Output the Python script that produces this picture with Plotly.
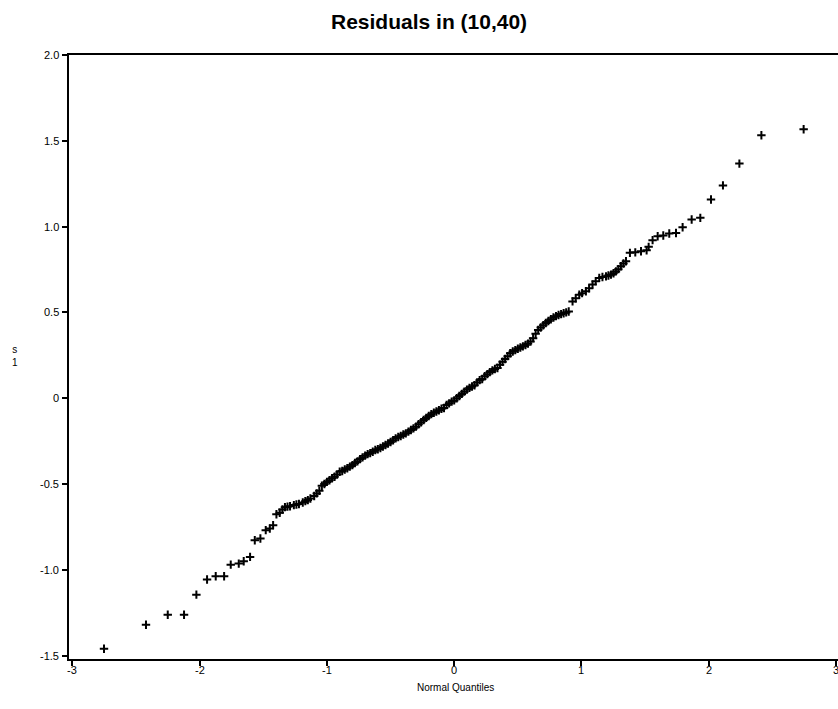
import plotly.graph_objects as go

# Normal quantiles (x) and residuals s1 (y)
lower_x = [-2.752, -2.422, -2.251, -2.123, -2.026, -1.942, -1.874, -1.808, -1.756, -1.693,
           -1.654, -1.604, -1.567, -1.523, -1.481, -1.449, -1.423, -1.397, -1.371]
lower_y = [-1.460, -1.320, -1.262, -1.262, -1.145, -1.057, -1.038, -1.038, -0.970, -0.964,
           -0.950, -0.925, -0.828, -0.818, -0.769, -0.760, -0.740, -0.676, -0.668]

middle_x = [-1.35, -1.33, -1.31, -1.29, -1.26, -1.24, -1.22, -1.19, -1.17, -1.15, -1.13, -1.10,
            -1.08, -1.06, -1.04, -1.02, -1.00, -0.98, -0.96, -0.94, -0.92, -0.90, -0.88, -0.86,
            -0.84, -0.82, -0.80, -0.78, -0.76, -0.74, -0.72, -0.70, -0.68, -0.66, -0.64, -0.62,
            -0.60, -0.58, -0.56, -0.54, -0.52, -0.50, -0.48, -0.46, -0.44, -0.42, -0.40, -0.38,
            -0.36, -0.34, -0.32, -0.30, -0.28, -0.26, -0.24, -0.22, -0.20, -0.18, -0.16, -0.14,
            -0.12, -0.10, -0.08, -0.06, -0.04, -0.02, 0.00, 0.02, 0.04, 0.06, 0.08, 0.10,
            0.12, 0.14, 0.16, 0.18, 0.20, 0.22, 0.24, 0.26, 0.28, 0.30, 0.32, 0.34,
            0.36, 0.38, 0.40, 0.42, 0.44, 0.46, 0.48, 0.50, 0.52, 0.54, 0.56, 0.58,
            0.60, 0.62, 0.64, 0.66, 0.68, 0.70, 0.72, 0.74, 0.76, 0.78, 0.80, 0.82,
            0.84, 0.86, 0.88, 0.90]
middle_y = [-0.649, -0.635, -0.632, -0.630, -0.623, -0.620, -0.617, -0.608, -0.600, -0.594, -0.585, -0.570,
            -0.555, -0.540, -0.510, -0.500, -0.488, -0.478, -0.467, -0.458, -0.445, -0.429, -0.424, -0.416,
            -0.408, -0.399, -0.390, -0.378, -0.368, -0.355, -0.345, -0.335, -0.326, -0.320, -0.312, -0.302,
            -0.298, -0.290, -0.282, -0.273, -0.264, -0.255, -0.245, -0.234, -0.226, -0.220, -0.212, -0.205,
            -0.195, -0.185, -0.176, -0.166, -0.152, -0.140, -0.127, -0.115, -0.104, -0.093, -0.085, -0.078,
            -0.070, -0.062, -0.057, -0.040, -0.030, -0.020, -0.013, 0.000, 0.013, 0.025, 0.038, 0.050,
            0.060, 0.068, 0.075, 0.092, 0.105, 0.112, 0.128, 0.140, 0.152, 0.162, 0.170, 0.176,
            0.195, 0.212, 0.228, 0.245, 0.262, 0.272, 0.280, 0.288, 0.295, 0.302, 0.310, 0.318,
            0.330, 0.350, 0.375, 0.398, 0.412, 0.425, 0.438, 0.450, 0.460, 0.470, 0.478, 0.485,
            0.490, 0.495, 0.500, 0.505]

upper_x = [0.930, 0.955, 0.983, 1.005, 1.035, 1.060, 1.087, 1.112, 1.140, 1.165, 1.193, 1.212,
           1.232, 1.252, 1.271, 1.290, 1.310, 1.330, 1.350, 1.381, 1.423, 1.468, 1.512, 1.528,
           1.559, 1.599, 1.643, 1.690, 1.743, 1.795, 1.866, 1.934, 2.018, 2.112, 2.241, 2.414,
           2.746]
upper_y = [0.564, 0.582, 0.603, 0.612, 0.623, 0.640, 0.662, 0.682, 0.701, 0.706, 0.710, 0.715,
           0.720, 0.728, 0.739, 0.752, 0.769, 0.785, 0.798, 0.847, 0.850, 0.856, 0.862, 0.882,
           0.921, 0.944, 0.948, 0.960, 0.963, 0.996, 1.041, 1.051, 1.158, 1.240, 1.367, 1.532,
           1.567]

x_vals = lower_x + middle_x + upper_x
y_vals = lower_y + middle_y + upper_y

x_tickvals = [-3, -2, -1, 0, 1, 2, 3]
x_ticktext = ["-3", "-2", "-1", "0", "1", "2", "3"]
y_tickvals = [-1.5, -1.0, -0.5, 0, 0.5, 1.0, 1.5, 2.0]
y_ticktext = ["-1.5", "-1.0", "-0.5", "0", "0.5", "1.0", "1.5", "2.0"]

FONT = "Liberation Sans, Arial, sans-serif"
label_font = dict(family=FONT, size=11, color="black")

PLOT_H = 709 - 55 - 50  # plot area height in pixels (for placing labels in paper units)

fig = go.Figure()
fig.add_trace(go.Scatter(
    x=x_vals, y=y_vals, mode="markers",
    marker=dict(symbol="cross-thin", size=6, line=dict(width=2, color="black"), color="black"),
    showlegend=False, hoverinfo="x+y",
))

annotations = []
for v, t in zip(x_tickvals, x_ticktext):
    annotations.append(dict(text=t, xref="x", yref="paper", x=v, y=-11 / PLOT_H,
                            xanchor="center", yanchor="middle", showarrow=False, font=label_font))
for v, t in zip(y_tickvals, y_ticktext):
    annotations.append(dict(text=t, xref="paper", yref="y", x=-8 / 769, y=v,
                            xanchor="right", yanchor="middle", showarrow=False, font=label_font))
annotations.append(dict(text="Normal Quantiles", xref="paper", yref="paper", x=0.502, y=-28 / PLOT_H,
                        xanchor="center", yanchor="middle", showarrow=False,
                        font=dict(family=FONT, size=10, color="black")))
annotations.append(dict(text="s<br>1", xref="paper", yref="paper", x=-54 / 769, y=0.502,
                        xanchor="center", yanchor="middle", showarrow=False, align="center",
                        font=dict(family=FONT, size=10, color="black")))

fig.update_layout(
    width=838, height=709,
    margin=dict(l=69, r=0, t=55, b=50),
    paper_bgcolor="white", plot_bgcolor="white",
    title=dict(text="Residuals in (10,40)", x=0.512, xanchor="center", y=0.970, yanchor="middle",
               font=dict(family=FONT, size=21, color="black", weight="bold")),
    xaxis=dict(range=[-3.027, 3.016], tickvals=x_tickvals, showticklabels=False,
               showline=True, linewidth=2, linecolor="black", mirror=True,
               ticks="outside", ticklen=5, tickwidth=2, tickcolor="black",
               showgrid=False, zeroline=False),
    yaxis=dict(range=[-1.52, 2.0], tickvals=y_tickvals, showticklabels=False,
               showline=True, linewidth=2, linecolor="black",
               ticks="outside", ticklen=5, tickwidth=2, tickcolor="black",
               showgrid=False, zeroline=False),
    annotations=annotations,
)

fig.write_html("out.html", config={"displayModeBar": False},
               post_script="document.body.style.margin='0';")
